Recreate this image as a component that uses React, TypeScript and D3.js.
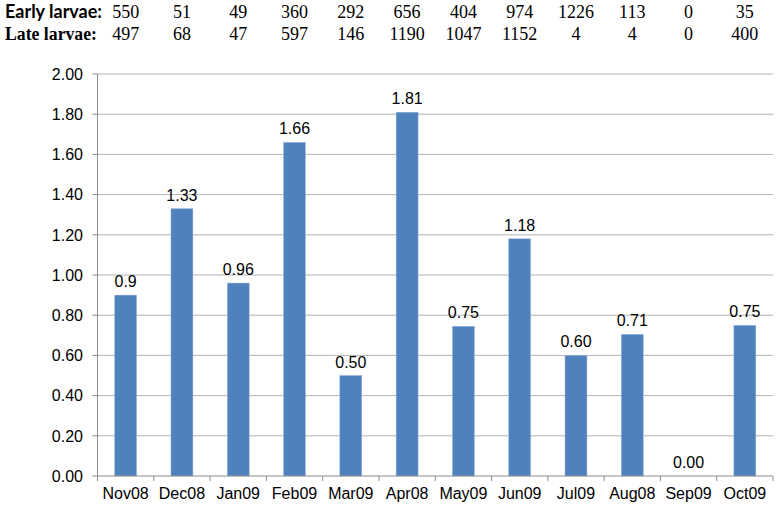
import React from 'react';
import * as d3 from 'd3';

const months = ['Nov08', 'Dec08', 'Jan09', 'Feb09', 'Mar09', 'Apr08', 'May09', 'Jun09', 'Jul09', 'Aug08', 'Sep09', 'Oct09'];
const ratio = [0.9, 1.33, 0.96, 1.66, 0.5, 1.81, 0.745, 1.18, 0.6, 0.705, 0, 0.75];
const ratioLabels = ['0.9', '1.33', '0.96', '1.66', '0.50', '1.81', '0.75', '1.18', '0.60', '0.71', '0.00', '0.75'];
const earlyLarvae = ['550', '51', '49', '360', '292', '656', '404', '974', '1226', '113', '0', '35'];
const lateLarvae = ['497', '68', '47', '597', '146', '1190', '1047', '1152', '4', '4', '0', '400'];
const yTicks = [0, 0.2, 0.4, 0.6, 0.8, 1.0, 1.2, 1.4, 1.6, 1.8, 2.0];

const W = 778, H = 510;
const margin = {left: 97.5, right: 5, top: 74, bottom: 34};

const App = () => {
    const x = d3.scaleBand()
        .domain(months)
        .range([margin.left, W - margin.right])
        .paddingInner(0.61)
        .paddingOuter(0.305);

    const y = d3.scaleLinear()
        .domain([0, 2])
        .range([H - margin.bottom, margin.top]);

    const step = x.step();
    const x0 = margin.left;
    const center = (m) => (x(m) ?? 0) + x.bandwidth() / 2;
    const arial = 'Liberation Sans, Arial, sans-serif';
    const times = 'Liberation Serif, Times New Roman, serif';

    return (
        <svg width={W} height={H} style={{position: 'absolute', left: 0, top: 0, background: '#fff'}}>
            {/* table of larvae counts */}
            <text x={5} y={18} fontFamily="Lato, Open Sans, sans-serif" fontWeight={700} fontSize={18}
                  textLength={97} lengthAdjust="spacingAndGlyphs">Early larvae:</text>
            <text x={5} y={40} fontFamily={times} fontWeight={700} fontSize={18}
                  textLength={92} lengthAdjust="spacingAndGlyphs">Late larvae:</text>
            {months.map((m, i) => (
                <g key={'t' + m} fontFamily={times} fontSize={18} textAnchor="middle">
                    <text x={center(m)} y={18}>{earlyLarvae[i]}</text>
                    <text x={center(m)} y={40}>{lateLarvae[i]}</text>
                </g>
            ))}

            {/* gridlines + y axis */}
            {yTicks.map(t => (
                <g key={'y' + t}>
                    {t > 0 && <line x1={x0} x2={W - margin.right} y1={y(t)} y2={y(t)} stroke="#b3b3b3" strokeWidth={1}/>}
                    <line x1={x0 - 5} x2={x0} y1={y(t)} y2={y(t)} stroke="#8c8c8c"/>
                    <text x={83} y={y(t)} dy="0.36em" textAnchor="end" fontFamily={arial} fontSize={16}>
                        {d3.format('.2f')(t)}
                    </text>
                </g>
            ))}
            <line x1={x0} x2={x0} y1={y(2)} y2={y(0)} stroke="#8c8c8c"/>

            {/* bars */}
            {months.map((m, i) => (
                <rect key={'b' + m} x={x(m)} width={x.bandwidth()} y={y(ratio[i])}
                      height={y(0) - y(ratio[i])} fill="#4f81bd" stroke="#9bb7dc" strokeWidth={0.5}/>
            ))}
            {months.map((m, i) => (
                <text key={'l' + m} x={center(m)} y={y(ratio[i]) - 8} textAnchor="middle"
                      fontFamily={arial} fontSize={16}>{ratioLabels[i]}</text>
            ))}

            {/* x axis */}
            <line x1={x0} x2={W - margin.right} y1={y(0)} y2={y(0)} stroke="#8c8c8c"/>
            {d3.range(months.length + 1).map(i => (
                <line key={'xt' + i} x1={x0 + i * step} x2={x0 + i * step} y1={y(0)} y2={y(0) + 5} stroke="#8c8c8c"/>
            ))}
            {months.map(m => (
                <text key={'x' + m} x={center(m)} y={y(0) + 23} textAnchor="middle"
                      fontFamily={arial} fontSize={16}>{m}</text>
            ))}
        </svg>
    );
};

export default App;
